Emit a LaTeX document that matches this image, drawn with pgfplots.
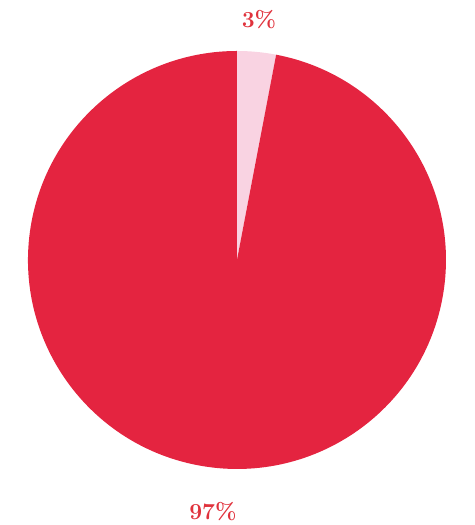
\documentclass[border=0pt]{standalone}
\usepackage{fontspec}
\usepackage{pgfplots}
\pgfplotsset{compat=1.18}
\definecolor{bigred}{HTML}{E42440}
\definecolor{lightpink}{HTML}{F9D3E2}
\definecolor{labred}{HTML}{E0323C}
% slice values (percent)
\def\sliceA{3}
\def\sliceB{97}
\begin{document}
\begin{tikzpicture}
\begin{axis}[
  scale only axis, width=475bp, height=525bp,
  xmin=0, xmax=475, ymin=0, ymax=525,
  hide axis, clip=false,
]
\addplot[draw=none] coordinates {(0,0) (475,525)};
\pgfmathsetmacro{\angA}{90-3.6*\sliceA}
\pgfmathsetmacro{\angB}{\angA-3.6*\sliceB}
\fill[lightpink] (axis cs:237,265) -- ++(90:209bp) arc[start angle=90, end angle=\angA, radius=209bp] -- cycle;
\fill[bigred] (axis cs:237,265) -- ++(\angA:209bp) arc[start angle=\angA, end angle=\angB, radius=209bp] -- cycle;
\node[text=labred, scale=1.15, font=\fontsize{20}{24}\selectfont\bfseries] at (axis cs:259,505) {3\%};
\node[text=labred, scale=1.15, font=\fontsize{20}{24}\selectfont\bfseries] at (axis cs:213,13) {97\%};
\end{axis}
\end{tikzpicture}
\end{document}
